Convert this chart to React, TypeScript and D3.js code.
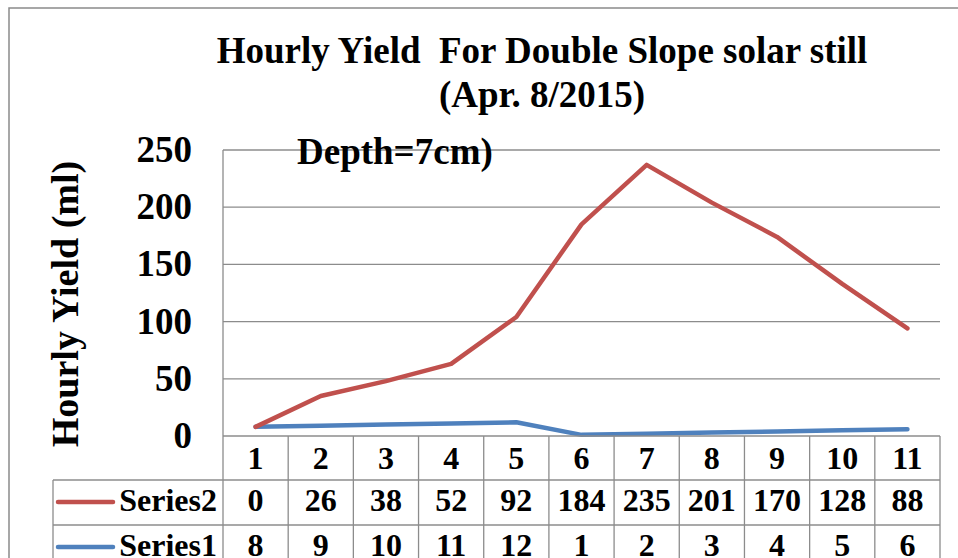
import { useMemo } from "react";
import * as d3 from "d3";

// values from the data table under the chart
const hours = ["1", "2", "3", "4", "5", "6", "7", "8", "9", "10", "11"];
const series2 = [0, 26, 38, 52, 92, 184, 235, 201, 170, 128, 88];
const series1 = [8, 9, 10, 11, 12, 1, 2, 3, 4, 5, 6];
const yTicks = [0, 50, 100, 150, 200, 250];
const seriesNames = ["Series1", "Series2"];
const seriesColors = { Series1: "#4F81BD", Series2: "#C0504D" };

const W = 958;
const H = 558;
const plot = { left: 223, right: 940, top: 150, bottom: 436 };
const rowH = [44, 45, 45];
const legendLeft = 53;
const font = "'Liberation Serif', 'Times New Roman', serif";

export default function App() {
  const rows = useMemo(
    () => hours.map((h, i) => ({ hour: h, Series1: series1[i], Series2: series2[i] })),
    []
  );

  const x = useMemo(
    () => d3.scaleBand().domain(hours).range([plot.left, plot.right]),
    []
  );
  const y = useMemo(
    () => d3.scaleLinear().domain([0, 250]).range([plot.bottom, plot.top]),
    []
  );

  // Excel "stacked line" — series2 sits on top of series1
  const stacked = useMemo(() => d3.stack().keys(seriesNames)(rows), [rows]);

  const line = d3
    .line<any>()
    .x((d) => x(d.data.hour)! + x.bandwidth() / 2)
    .y((d) => y(d[1]));

  const rowTop = [plot.bottom, plot.bottom + rowH[0], plot.bottom + rowH[0] + rowH[1]];
  const tableRows = [
    { name: "Series2", vals: series2, top: rowTop[1] },
    { name: "Series1", vals: series1, top: rowTop[2] },
  ];
  const grid = "#8c8c8c";

  return (
    <svg
      width={W}
      height={H}
      style={{ position: "absolute", left: 0, top: 0, background: "#fff" }}
      fontFamily={font}
      fontWeight="bold"
    >
      {/* chart area border */}
      <rect x={9} y={8} width={W + 20} height={H + 20} fill="none" stroke="#8a8a8a" strokeWidth={1.5} />

      {/* title */}
      <text x={542} y={63} textAnchor="middle" fontSize={37} fill="#000" xmlSpace="preserve">
        {"Hourly Yield  For Double Slope solar still"}
      </text>
      <text x={542} y={107} textAnchor="middle" fontSize={37} fill="#000">
        (Apr. 8/2015)
      </text>

      {/* gridlines */}
      {yTicks.slice(1).map((t) => (
        <line key={t} x1={plot.left} x2={plot.right} y1={y(t)} y2={y(t)} stroke={grid} strokeWidth={1.3} />
      ))}
      <line x1={plot.left} x2={plot.left} y1={plot.top} y2={plot.bottom} stroke={grid} strokeWidth={1.3} />

      {/* y tick labels */}
      {yTicks.map((t) => (
        <text key={t} x={192} y={y(t) + 12} textAnchor="end" fontSize={37} fill="#000">
          {t}
        </text>
      ))}

      {/* y axis title */}
      <text
        transform={`translate(78,${304}) rotate(-90)`}
        textAnchor="middle"
        fontSize={38}
        fill="#000"
      >
        Hourly Yield (ml)
      </text>

      <text x={297} y={164} fontSize={37} fill="#000">
        Depth=7cm)
      </text>

      {/* lines */}
      {stacked.map((s) => (
        <path
          key={s.key}
          d={line(s as any) || ""}
          fill="none"
          stroke={(seriesColors as any)[s.key]}
          strokeWidth={4.5}
          strokeLinejoin="round"
          strokeLinecap="round"
        />
      ))}

      {/* data table */}
      <g stroke={grid} strokeWidth={1.3}>
        <line x1={plot.left} x2={plot.right} y1={rowTop[0]} y2={rowTop[0]} />
        <line x1={legendLeft} x2={plot.right} y1={rowTop[1]} y2={rowTop[1]} />
        <line x1={legendLeft} x2={plot.right} y1={rowTop[2]} y2={rowTop[2]} />
        <line x1={legendLeft} x2={legendLeft} y1={rowTop[1]} y2={H} />
        {hours.map((h) => (
          <line key={h} x1={x(h)} x2={x(h)} y1={rowTop[0]} y2={H} />
        ))}
        <line x1={plot.right} x2={plot.right} y1={rowTop[0]} y2={H} />
      </g>

      {hours.map((h) => (
        <text
          key={h}
          x={x(h)! + x.bandwidth() / 2}
          y={rowTop[0] + 33}
          textAnchor="middle"
          fontSize={32}
          fill="#000"
        >
          {h}
        </text>
      ))}

      {tableRows.map((r) => (
        <g key={r.name}>
          <line
            x1={58}
            x2={113}
            y1={r.top + 22}
            y2={r.top + 22}
            stroke={(seriesColors as any)[r.name]}
            strokeWidth={4.5}
            strokeLinecap="round"
          />
          <text x={217} y={r.top + 31} textAnchor="end" fontSize={32} fill="#000">
            {r.name}
          </text>
          {r.vals.map((v, i) => (
            <text
              key={i}
              x={x(hours[i])! + x.bandwidth() / 2}
              y={r.top + 31}
              textAnchor="middle"
              fontSize={32}
              fill="#000"
            >
              {v}
            </text>
          ))}
        </g>
      ))}
    </svg>
  );
}
